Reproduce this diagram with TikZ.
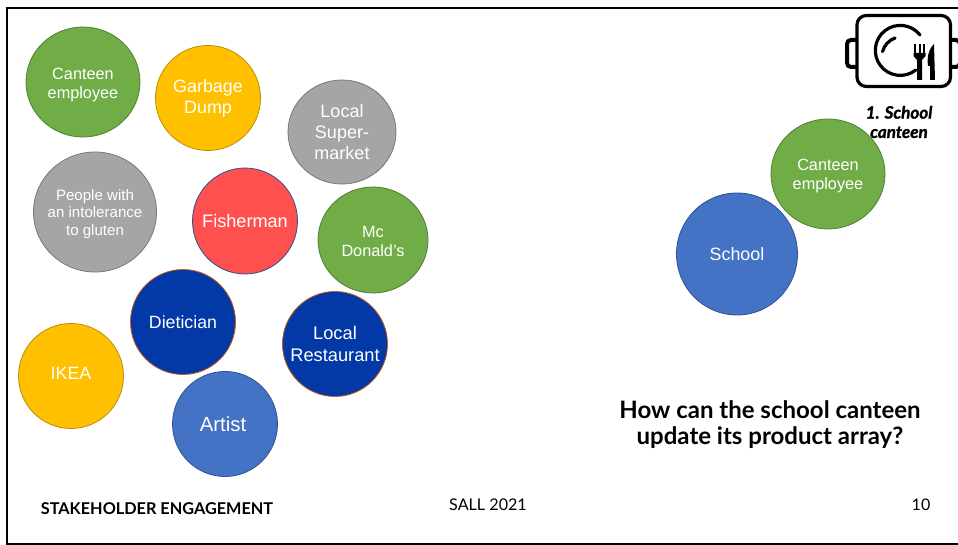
\documentclass[tikz,border=0pt]{standalone}
\usepackage{fontspec}
\setmainfont{Liberation Sans}
\newfontfamily\latofont{Lato}
\usetikzlibrary{shapes.geometric}
\definecolor{bubblegreen}{HTML}{70AD47}
\definecolor{edgegreen}{HTML}{507E32}
\definecolor{bubbleyellow}{HTML}{FFC000}
\definecolor{edgeyellow}{HTML}{BC8C00}
\definecolor{bubblegray}{HTML}{A5A5A5}
\definecolor{edgegray}{HTML}{787878}
\definecolor{bubblered}{HTML}{FF5050}
\definecolor{bubblenavy}{HTML}{0339A6}
\definecolor{edgebrown}{HTML}{C55A11}
\definecolor{bubbleblue}{HTML}{4472C4}
\definecolor{edgeblue}{HTML}{2F528F}
\tikzset{
    bubble/.style 2 args={
        ellipse, draw=#2, fill=#1, text=white,
        inner sep=-20pt, align=center, line width=0.6pt,
    },
    span/.style 2 args={
        minimum width=#1*0.75pt, minimum height=#2*0.75pt,
    },
    fontscale/.style 2 args={
        font=\fontsize{#1}{#2}\selectfont,
    },
    caption/.style={
        inner sep=0pt, align=center, text=black,
    },
    tray/.style={
        draw, line width=2.4pt, rounded corners=7pt,
    },
    plate/.style={
        draw, line width=2.4pt, line cap=round,
    },
}
\begin{document}
\begin{tikzpicture}[x=0.75pt,y=-0.75pt]
    \useasboundingbox (0,0) rectangle (958,545);
    \draw[line width=1.5pt] (958,8) -- (7,8) -- (7,544) -- (958,544);
    % left group
    \node [bubble={bubblegreen}{edgegreen}, span={114}{110}, fontscale={12.2}{14.3}] (employee) at (83,82) {\rule{0pt}{13.5pt}Canteen\\employee};
    \node [bubble={bubbleyellow}{edgeyellow}, span={105}{105}, fontscale={13.4}{15.8}] (garbage) at (208,98) {Garbage\\Dump};
    \node [bubble={bubblegray}{edgegray}, span={108}{104}, fontscale={13.5}{15.8}] (market) at (342,132) {Local\\Super-\\market};
    \node [bubble={bubblegray}{edgegray}, span={123}{120}, fontscale={11.3}{13.2}] (people) at (95,212) {\rule{0pt}{11pt}People with\\an intolerance\\to gluten};
    \node [bubble={bubblered}{edgeblue}, span={105}{106}, fontscale={13.6}{15}] (fisherman) at (245,221) {Fisherman};
    \node [bubble={bubblegreen}{edgegreen}, span={110}{106}, fontscale={12.2}{14}] (mcdonalds) at (373,240) {\rule{0pt}{10.5pt}Mc\\Donald's};
    \node [bubble={bubblenavy}{edgebrown}, span={105}{105}, fontscale={13.3}{15}] (dietician) at (183,322) {Dietician};
    \node [bubble={bubblenavy}{edgebrown}, span={105}{105}, fontscale={13.7}{16.4}] (restaurant) at (335,344) {Local\\Restaurant};
    \node [bubble={bubbleyellow}{edgeyellow}, span={105}{105}, fontscale={13.4}{15}] (ikea) at (71,376) {\rule[-4.5pt]{0pt}{4.5pt}IKEA};
    \node [bubble={bubbleblue}{edgeblue}, span={105}{105}, fontscale={15.3}{17}] (artist) at (225,424) {\hspace*{-3pt}Artist};
    % right group
    \node [bubble={bubblegreen}{edgegreen}, span={114}{110}, fontscale={12.2}{14.3}] (canteen) at (828,174) {\rule{0pt}{12pt}Canteen\\employee};
    \node [bubble={bubbleblue}{edgeblue}, span={121}{122}, fontscale={13.4}{15}] (school) at (737,254) {School};
    % tray icon
    \draw[tray] (857,15.5) rectangle (950.5,86.5);
    \draw[line width=3pt,rounded corners=3pt] (857,40) -- (847,40) -- (847,67) -- (857,67);
    \draw[line width=3pt,rounded corners=3pt] (950.5,40) -- (960,40) -- (960,67) -- (950.5,67);
    \draw[plate] (920,35) arc[start angle=-38,end angle=-308,radius=25];
    \draw[plate] (895,38) arc[start angle=-110,end angle=-165,radius=20];
    \draw[line width=1.5pt] (915,44) -- (915,54) (919.5,44) -- (919.5,54) (924,44) -- (924,54);
    \fill (913.5,53) -- (925.5,53) -- (925.5,56) -- (922,60) -- (922,80) -- (917,80) -- (917,60) -- (913.5,56) -- cycle;
    \fill (934,44) .. controls (928,50) and (927,58) .. (928,66) -- (930,66) -- (930,80) -- (935,80) -- cycle;
    \node [caption, fontscale={12.8}{14.5}] (iconlabel) at (899,122) {\latofont\bfseries\itshape\addfontfeature{FakeBold=1.5} 1. School\\\latofont\bfseries\itshape\addfontfeature{FakeBold=1.5} canteen};
    % captions
    \node [caption, fontscale={18}{19.5}] (question) at (770,425) {\latofont\bfseries How can the school canteen\\\latofont\bfseries update its product array?};
    \node [caption, fontscale={12.2}{14}] (footer) at (157,509) {\latofont\bfseries STAKEHOLDER ENGAGEMENT};
    \node [caption, fontscale={12.1}{14}] (sall) at (488,505) {\latofont SALL 2021};
    \node [caption, fontscale={12}{14}] (pagenum) at (921,505) {\latofont 10};
\end{tikzpicture}
\end{document}
